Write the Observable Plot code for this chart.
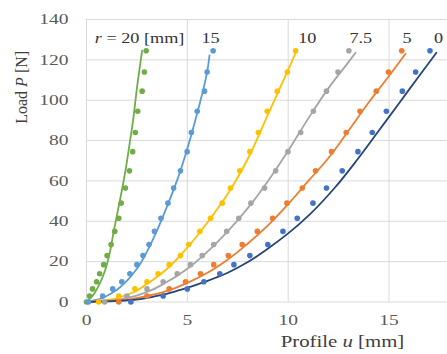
<!DOCTYPE html>
<html><head><meta charset="utf-8">
<script src="https://cdn.jsdelivr.net/npm/d3@7"></script>
<script src="https://cdn.jsdelivr.net/npm/@observablehq/plot@0.6"></script>
<style>body{margin:0;background:#fff;}</style>
</head><body><div id="chart"></div>
<script>
// Load levels (N) at which measured profile points were taken
const loads = [0, 3, 6.5, 10, 14, 18.5, 23, 28.5, 35, 41.5, 49, 56.5, 65, 74.5, 84, 94.5, 104.5, 114, 124.5];

// Measured profile u (mm) per radius r
const dotsR20 = [0, 0.15, 0.3, 0.5, 0.65, 0.85, 1.02, 1.22, 1.4, 1.6, 1.72, 1.93, 2.13, 2.29, 2.42, 2.54, 2.76, 2.87, 2.96];
const dotsR15 = [0.1, 0.8, 1.3, 1.75, 2.15, 2.5, 2.8, 3.1, 3.37, 3.69, 4.04, 4.32, 4.66, 4.99, 5.2, 5.49, 5.85, 5.98, 6.28];
const dotsR10 = [0.6, 1.6, 2.4, 3.0, 3.55, 4.1, 4.66, 5.07, 5.62, 6.15, 6.73, 7.14, 7.6, 8.1, 8.52, 8.96, 9.46, 9.96, 10.37];
const dotsR75 = [0.9, 2.0, 3.0, 3.8, 4.5, 5.16, 5.74, 6.31, 6.95, 7.55, 8.15, 8.83, 9.38, 9.99, 10.62, 11.25, 11.9, 12.47, 13.01];
const dotsR5  = [1.6, 3.0, 4.1, 4.91, 5.65, 6.31, 7.03, 7.72, 8.47, 9.23, 9.94, 10.7, 11.36, 12.15, 12.88, 13.56, 14.37, 14.97, 15.63];
const dotsR0  = [2.2, 3.8, 5.0, 5.82, 6.61, 7.31, 8.1, 8.99, 9.74, 10.45, 11.23, 11.9, 12.68, 13.46, 14.17, 14.87, 15.66, 16.32, 17.03];

// Computed curves [u, P]
const lineR20 = [[0,0],[0.3,3],[0.6,8],[0.9,15],[1.1,22],[1.35,35],[1.65,50],[1.93,65],[2.13,78],[2.31,90],[2.5,106],[2.76,124.6]];
const lineR15 = [[0,0],[0.5,1],[1,3],[1.5,6],[2,10.5],[2.5,16.5],[3,25],[3.5,35.5],[4,47.5],[4.5,60.5],[5,76],[5.5,94],[6,115],[6.1,122.2]];
const lineR10 = [[0,0],[1,1],[2,3.5],[3,9],[4,16.5],[5,27],[6,39.5],[7,53.5],[8,71],[9,93],[9.5,104],[10,115],[10.42,124.6]];
const lineR75 = [[0,0],[1,0.5],[2,2],[3,5],[4,10],[5,16.5],[6,25],[7,35],[8,46.5],[9,60],[10,75],[11,91],[12,106],[13,119],[13.34,123.5]];
const lineR5  = [[0,0],[1.5,0.8],[3,3],[4,5.5],[5,9.5],[6,14.5],[7,21],[8,29],[9,38],[10,48.5],[11,60],[11.94,70.6],[13,85],[14,99],[15,112],[15.82,123]];
const lineR0  = [[0,0],[2,0.8],[3.5,3],[4.66,6],[6,10.5],[7,14.5],[8,19.8],[9,26.5],[10,34],[11.1,43.7],[12.3,56.5],[13.43,70.6],[14.5,85],[15.5,98.5],[16.4,110.8],[17.35,123.5]];

const seriesNames = ["20", "15", "10", "7.5", "5", "0"];
const dotColors  = ["#70AD47", "#5B9BD5", "#FFC000", "#A5A5A5", "#ED7D31", "#4472C4"];
const lineColors = ["#70AD47", "#5B9BD5", "#FFC000", "#A5A5A5", "#ED7D31", "#264478"];

const xTicks = [0, 5, 10, 15];
const yTicks = [0, 20, 40, 60, 80, 100, 120, 140];

// Series annotations at the top of the chart
const labelTexts = ["r = 20 [mm]", "15", "10", "7.5", "5", "0"];
const labelU = [2.63, 6.15, 10.95, 13.6, 15.9, 17.45];
const labelP = 130.4;

const dotSets = [dotsR20, dotsR15, dotsR10, dotsR75, dotsR5, dotsR0];
const lineSets = [lineR20, lineR15, lineR10, lineR75, lineR5, lineR0];

const dots = seriesNames.flatMap((s, i) => dotSets[i].map((u, j) => ({series: s, u, P: loads[j], color: dotColors[i]})));
const lines = seriesNames.flatMap((s, i) => lineSets[i].map(([u, P]) => ({series: s, u, P, color: lineColors[i]})));
const labels = labelTexts.map((t, i) => ({t, u: labelU[i], P: labelP}));

const chart = Plot.plot({
  width: 447, height: 354,
  marginLeft: 86, marginRight: 0, marginTop: 19, marginBottom: 52.5,
  x: {domain: [0, 17.9]},
  y: {domain: [0, 140]},
  color: {type: "identity"},
  style: {fontFamily: "Liberation Serif", fontSize: "15px", color: "#595959", background: "#fff"},
  marks: [
    Plot.gridX(xTicks, {stroke: "#d9d9d9", strokeOpacity: 1}),
    Plot.gridY(yTicks, {stroke: "#d9d9d9", strokeOpacity: 1}),
    Plot.axisX(xTicks, {tickSize: 0, tickPadding: 12, label: null, fill: "#595959"}),
    Plot.axisY(yTicks, {tickSize: 0, tickPadding: 18, label: null, fill: "#595959"}),
    Plot.line(lines, {x: "u", y: "P", z: "series", stroke: "color", strokeWidth: 1.8, curve: "monotone-y"}),
    Plot.dot(dots, {x: "u", y: "P", fill: "color", r: 2.8}),
    Plot.text(labels, {x: "u", y: "P", text: "t", fill: "#333", fontSize: 14}),
    Plot.text(["Load P [N]"], {frameAnchor: "left", rotate: -90, dx: -65, dy: -37, fill: "#404040", fontSize: 16}),
    Plot.text(["Profile u [mm]"], {frameAnchor: "bottom", dx: 75.5, dy: 44.5, fill: "#404040", fontSize: 16})
  ]
});
document.getElementById("chart").appendChild(chart);

// italic symbols
chart.querySelectorAll("text").forEach(t => {
  const s = t.textContent;
  if (s === "Load P [N]") t.innerHTML = 'Load <tspan font-style="italic">P</tspan> [N]';
  else if (s === "Profile u [mm]") t.innerHTML = 'Profile <tspan font-style="italic">u</tspan> [mm]';
  else if (s === "r = 20 [mm]") t.innerHTML = '<tspan font-style="italic">r</tspan> = 20 [mm]';
});
// horizontal stretch of the reference's text
chart.querySelectorAll("text").forEach(t => {
  const tr = t.getAttribute("transform") || "";
  if (tr.includes("rotate")) return;
  const len = t.getComputedTextLength();
  if (len > 0) { t.setAttribute("textLength", len * 1.3); t.setAttribute("lengthAdjust", "spacingAndGlyphs"); }
});
</script>
</body></html>
